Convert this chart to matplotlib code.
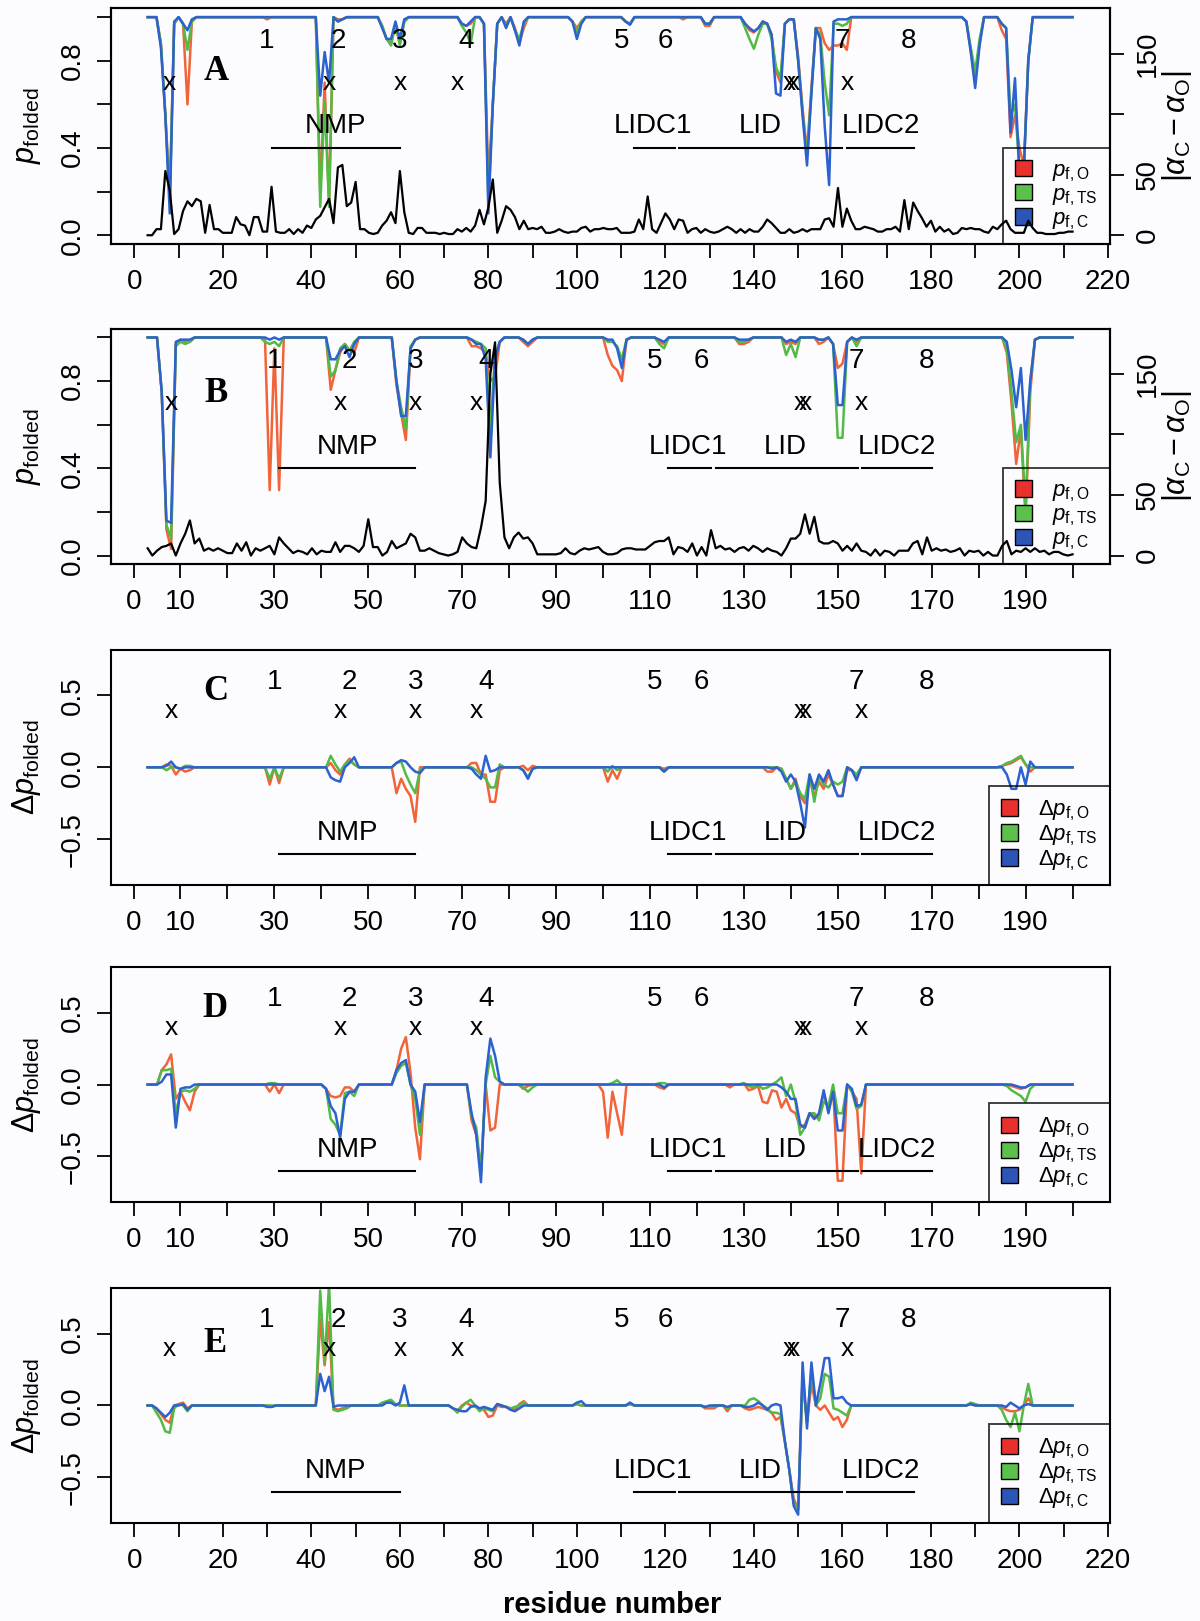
import numpy as np
import matplotlib
matplotlib.use('Agg')
import matplotlib.pyplot as plt
from matplotlib.patches import Patch

plt.rcParams['font.family'] = ['Liberation Sans', 'DejaVu Sans']
plt.rcParams['mathtext.fontset'] = 'custom'
plt.rcParams['mathtext.rm'] = 'Liberation Sans'
plt.rcParams['mathtext.it'] = 'Liberation Sans:italic'
plt.rcParams['mathtext.bf'] = 'Liberation Sans:bold'

# residue ranges of the two proteins
res_long = np.arange(3, 213)    # panels A and E
res_short = np.arange(3, 201)   # panels B, C and D

# |alpha_C - alpha_O| in degrees (black curves, right axis)
alpha_A = [0, 0, 5, 5, 53, 37, 1, 5, 20, 28,
           24, 30, 28, 2, 25, 5, 5, 2, 2, 2,
           15, 9, 8, 0, 15, 15, 3, 3, 40, 3,
           2, 2, 5, 1, 5, 2, 8, 6, 13, 16,
           23, 30, 10, 56, 58, 24, 27, 44, 5, 5,
           2, 1, 2, 8, 12, 19, 10, 53, 19, 2,
           1, 6, 6, 2, 2, 2, 1, 2, 1, 1,
           5, 3, 6, 3, 8, 21, 9, 23, 46, 2,
           12, 24, 21, 15, 5, 12, 5, 6, 5, 7,
           2, 2, 3, 5, 3, 2, 3, 3, 6, 7,
           3, 5, 5, 6, 5, 5, 6, 2, 2, 2,
           3, 13, 5, 32, 5, 2, 10, 18, 13, 5,
           13, 12, 2, 5, 6, 2, 5, 3, 2, 3,
           5, 7, 5, 2, 5, 2, 5, 3, 3, 7,
           13, 10, 6, 2, 2, 5, 2, 3, 5, 3,
           5, 5, 5, 13, 14, 7, 39, 7, 22, 12,
           5, 5, 7, 6, 5, 3, 3, 5, 5, 7,
           3, 29, 5, 27, 20, 14, 7, 12, 3, 7,
           3, 5, 1, 2, 6, 5, 6, 5, 5, 3,
           2, 7, 5, 9, 12, 5, 2, 2, 2, 12,
           6, 2, 2, 1, 1, 1, 2, 2, 3, 3]
alpha_B = [6, 0, 4, 7, 8, 10, 0, 10, 18, 29,
           10, 14, 4, 6, 4, 6, 4, 2, 2, 10,
           4, 11, 0, 6, 4, 6, 8, 1, 15, 10,
           6, 2, 4, 3, 1, 6, 1, 4, 3, 3,
           11, 3, 8, 8, 6, 3, 8, 30, 7, 7,
           0, 3, 12, 6, 8, 10, 18, 15, 4, 4,
           6, 4, 2, 1, 0, 1, 3, 15, 10, 7,
           6, 23, 45, 150, 176, 60, 15, 6, 15, 19,
           14, 15, 10, 1, 1, 1, 1, 1, 2, 6,
           2, 1, 4, 6, 5, 6, 7, 3, 1, 1,
           2, 5, 6, 6, 5, 5, 5, 8, 11, 12,
           12, 15, 1, 7, 6, 3, 10, 0, 7, 0,
           21, 6, 8, 5, 6, 3, 6, 7, 4, 8,
           6, 3, 6, 4, 3, 0, 6, 14, 14, 18,
           34, 18, 32, 12, 10, 10, 12, 10, 4, 8,
           4, 10, 4, 3, 0, 5, 0, 4, 3, 0,
           4, 4, 4, 10, 12, 1, 15, 4, 6, 4,
           5, 3, 4, 6, 0, 4, 3, 4, 0, 3,
           0, 0, 8, 12, 1, 4, 3, 6, 3, 6,
           3, 4, 1, 3, 3, 1, 0, 1]

# panel A: p_folded where it departs from 1
A_res = [6, 7, 8, 9, 11, 12, 13, 30, 42, 43,
         44, 46, 47, 56, 57, 58, 59, 60, 61, 74,
         75, 76, 79, 80, 81, 82, 84, 86, 87, 88,
         99, 100, 101, 111, 112, 124, 129, 130, 138, 139,
         140, 141, 142, 143, 144, 145, 146, 147, 148, 149,
         150, 151, 152, 153, 154, 155, 156, 157, 158, 159,
         160, 161, 188, 189, 190, 191, 196, 197, 198, 199,
         200, 201, 202]
A_pO = [0.88, 0.55, 0.20, 0.97, 0.97, 0.60, 0.98, 0.99, 0.20, 0.70,
        0.15, 0.99, 0.99, 0.96, 0.90, 0.88, 0.96, 0.88, 0.98, 0.97,
        0.96, 0.97, 0.97, 0.25, 0.60, 0.97, 0.97, 0.95, 0.88, 0.95,
        0.98, 0.95, 0.98, 0.98, 0.97, 0.99, 0.96, 0.96, 0.97, 0.94,
        0.93, 0.95, 0.98, 0.97, 0.92, 0.75, 0.70, 0.97, 0.99, 0.99,
        0.82, 0.58, 0.38, 0.68, 0.95, 0.95, 0.88, 0.85, 0.87, 0.87,
        0.88, 0.85, 0.98, 0.85, 0.71, 0.88, 0.94, 0.90, 0.45, 0.55,
        0.40, 0.32, 0.80]
A_pTS = [0.88, 0.56, 0.15, 0.97, 0.97, 0.85, 0.98, 1.00, 0.13, 0.62,
         0.13, 0.98, 0.99, 0.96, 0.90, 0.87, 0.97, 0.87, 0.98, 0.96,
         0.93, 0.88, 0.97, 0.15, 0.60, 0.97, 0.96, 0.94, 0.90, 0.97,
         0.98, 0.93, 0.98, 0.98, 0.97, 1.00, 0.97, 0.97, 0.95, 0.90,
         0.855, 0.92, 0.97, 0.97, 0.90, 0.77, 0.72, 0.97, 0.99, 0.99,
         0.80, 0.56, 0.36, 0.66, 0.95, 0.92, 0.70, 0.55, 0.97, 0.97,
         0.96, 0.97, 0.98, 0.86, 0.75, 0.90, 0.97, 0.95, 0.55, 0.60,
         0.30, 0.30, 0.80]
A_pC = [0.86, 0.55, 0.10, 0.98, 0.97, 0.94, 0.99, 1.00, 0.64, 0.84,
        0.70, 0.98, 0.99, 0.95, 0.90, 0.90, 0.98, 0.90, 0.99, 0.97,
        0.96, 0.98, 0.97, 0.10, 0.60, 0.97, 0.95, 0.94, 0.87, 0.98,
        0.98, 0.90, 0.97, 0.98, 0.965, 1.00, 0.97, 0.97, 0.97, 0.95,
        0.935, 0.95, 0.98, 0.97, 0.92, 0.65, 0.64, 0.97, 0.99, 0.99,
        0.80, 0.55, 0.32, 0.65, 0.95, 0.90, 0.50, 0.23, 0.98, 0.99,
        0.99, 0.99, 0.98, 0.84, 0.675, 0.87, 0.97, 0.95, 0.47, 0.72,
        0.28, 0.30, 0.80]

# panel B
B_res = [6, 7, 8, 9, 10, 11, 12, 28, 29, 30,
         31, 42, 43, 44, 45, 46, 47, 56, 57, 58,
         59, 60, 72, 73, 74, 75, 76, 77, 78, 83,
         84, 85, 101, 102, 103, 104, 105, 112, 113, 129,
         130, 131, 139, 140, 141, 146, 147, 149, 150, 151,
         152, 154, 186, 187, 188, 189, 190, 191, 192]
B_pO = [0.75, 0.12, 0.03, 0.97, 0.99, 0.98, 0.98, 0.99, 0.30, 0.95,
        0.30, 0.76, 0.85, 0.93, 0.97, 0.94, 0.93, 0.78, 0.65, 0.53,
        0.95, 0.99, 0.96, 0.96, 0.95, 0.93, 0.80, 0.82, 0.98, 0.98,
        0.96, 0.98, 0.92, 0.87, 0.85, 0.80, 0.99, 0.98, 0.97, 0.97,
        0.97, 0.98, 0.97, 0.98, 0.97, 0.97, 0.98, 0.97, 0.86, 0.88,
        0.98, 0.98, 0.93, 0.70, 0.42, 0.58, 0.17, 0.75, 0.99]
B_pTS = [0.75, 0.14, 0.08, 0.96, 0.98, 0.97, 0.98, 0.98, 0.97, 0.98,
         0.96, 0.82, 0.85, 0.95, 0.97, 0.94, 0.98, 0.80, 0.68, 0.58,
         0.96, 0.99, 0.99, 0.98, 0.97, 0.95, 0.58, 0.92, 0.98, 0.99,
         0.97, 0.99, 0.98, 0.98, 0.96, 0.90, 0.99, 0.97, 0.95, 0.98,
         0.98, 0.99, 0.92, 0.97, 0.91, 0.99, 0.99, 0.97, 0.54, 0.54,
         0.98, 0.96, 0.95, 0.75, 0.52, 0.60, 0.22, 0.80, 0.99]
B_pC = [0.75, 0.16, 0.15, 0.98, 0.99, 0.99, 0.99, 1.00, 0.99, 1.00,
        0.99, 0.90, 0.90, 0.94, 0.96, 0.91, 0.97, 0.80, 0.64, 0.64,
        0.95, 0.99, 0.99, 0.97, 0.97, 0.90, 0.45, 0.90, 0.98, 0.99,
        0.97, 0.99, 0.99, 0.99, 0.95, 0.86, 0.99, 0.99, 0.98, 0.99,
        0.99, 0.99, 0.98, 0.99, 0.98, 0.99, 0.99, 0.97, 0.69, 0.69,
        0.98, 0.99, 0.98, 0.85, 0.68, 0.86, 0.53, 0.80, 0.99]

# panel C: delta p_folded where it departs from 0
C_res = [7, 8, 9, 10, 11, 12, 29, 31, 42, 43,
         44, 45, 46, 47, 56, 57, 58, 59, 60, 61,
         72, 73, 74, 75, 76, 77, 78, 83, 84, 85,
         101, 102, 103, 113, 135, 136, 138, 139, 140, 141,
         142, 143, 144, 145, 146, 147, 148, 149, 150, 151,
         152, 153, 154, 185, 186, 187, 188, 189, 190, 191]
C_dO = [0.02, 0.01, -0.05, -0.01, -0.03, -0.02, -0.12, -0.11, 0.03, -0.02,
        -0.05, 0.02, 0.06, 0.02, -0.18, -0.08, -0.15, -0.20, -0.38, 0.00,
        0.03, 0.03, -0.05, -0.05, -0.24, -0.24, -0.02, 0.01, -0.02, 0.01,
        -0.10, -0.02, -0.08, -0.01, -0.03, -0.03, -0.01, -0.08, -0.15, -0.08,
        -0.20, -0.25, -0.08, -0.20, -0.10, -0.15, -0.05, -0.12, -0.20, -0.20,
        -0.02, -0.02, -0.07, 0.01, 0.02, 0.03, 0.05, 0.07, 0.02, -0.03]
C_dTS = [-0.02, 0.00, 0.00, -0.01, 0.01, 0.01, -0.08, -0.08, 0.08, 0.02,
         -0.03, 0.02, 0.05, 0.02, 0.03, 0.04, -0.05, -0.12, -0.18, -0.02,
         0.00, -0.02, -0.05, -0.08, -0.14, -0.14, 0.02, -0.02, -0.07, -0.01,
         -0.03, 0.01, -0.02, -0.03, 0.00, 0.00, -0.01, -0.08, -0.15, -0.10,
         -0.18, -0.22, -0.05, -0.24, -0.06, -0.12, -0.14, -0.10, -0.12, -0.10,
         0.00, -0.02, -0.05, 0.01, 0.03, 0.04, 0.06, 0.08, 0.02, 0.00]
C_dC = [0.01, 0.04, 0.00, -0.01, 0.00, 0.00, 0.00, 0.00, -0.07, -0.09,
        -0.10, 0.00, 0.03, 0.07, 0.03, 0.05, 0.04, 0.00, -0.03, -0.04,
        -0.01, -0.05, -0.08, 0.08, -0.03, -0.02, 0.00, -0.02, -0.08, -0.01,
        0.00, 0.00, 0.00, -0.03, 0.00, -0.01, -0.03, -0.10, -0.05, -0.10,
        -0.25, -0.42, -0.05, -0.15, -0.05, -0.10, -0.02, -0.12, -0.20, -0.20,
        0.00, -0.02, -0.09, 0.00, -0.05, -0.15, -0.15, 0.00, -0.12, 0.04]

# panel D
D_res = [6, 7, 8, 9, 10, 11, 12, 13, 29, 30,
         31, 41, 42, 43, 44, 45, 46, 47, 56, 57,
         58, 59, 60, 61, 72, 73, 74, 75, 76, 77,
         78, 83, 84, 85, 100, 101, 102, 103, 104, 112,
         113, 127, 130, 131, 132, 133, 134, 135, 136, 137,
         138, 139, 140, 141, 142, 143, 144, 145, 146, 147,
         148, 149, 150, 151, 152, 153, 154, 155, 186, 187,
         188, 189, 190, 191]
D_dO = [0.10, 0.14, 0.21, -0.10, -0.05, -0.12, -0.18, -0.05, -0.05, 0.00,
        -0.06, -0.03, -0.08, -0.09, -0.08, -0.02, -0.02, -0.05, 0.10, 0.25,
        0.33, 0.08, -0.30, -0.52, -0.25, -0.35, -0.62, 0.00, -0.32, -0.30,
        0.00, -0.03, -0.01, 0.00, -0.05, -0.37, -0.05, -0.20, -0.35, -0.02,
        -0.03, -0.02, 0.01, -0.04, -0.03, -0.01, -0.12, -0.13, -0.04, -0.05,
        -0.16, -0.10, -0.18, -0.20, -0.30, -0.28, -0.20, -0.22, -0.22, -0.06,
        -0.18, -0.02, -0.67, -0.67, 0.00, -0.05, -0.10, -0.62, 0.00, -0.01,
        -0.02, -0.03, -0.02, 0.00]
D_dTS = [0.10, 0.10, 0.11, -0.20, -0.05, -0.04, -0.05, -0.03, 0.01, 0.01,
         0.00, -0.03, -0.24, -0.28, -0.35, -0.06, -0.05, -0.08, 0.08, 0.13,
         0.15, 0.00, -0.10, -0.35, -0.22, -0.30, -0.60, 0.00, 0.20, 0.05,
         0.02, -0.02, -0.05, -0.02, 0.00, 0.00, 0.01, 0.03, 0.00, 0.01,
         0.01, 0.00, 0.01, -0.01, -0.02, 0.00, -0.03, -0.02, 0.00, 0.02,
         0.05, -0.08, 0.00, -0.12, -0.35, -0.30, -0.20, -0.20, -0.25, -0.12,
         -0.15, 0.00, -0.20, -0.20, 0.00, -0.05, -0.17, -0.15, -0.01, -0.04,
         -0.06, -0.08, -0.12, -0.03]
D_dC = [0.02, 0.07, 0.07, -0.30, -0.03, -0.02, -0.02, 0.00, 0.00, 0.00,
        0.00, -0.03, -0.15, -0.20, -0.37, -0.10, -0.05, -0.05, 0.10, 0.15,
        0.17, 0.00, -0.05, -0.26, -0.20, -0.35, -0.68, 0.05, 0.32, 0.20,
        0.02, 0.00, 0.00, 0.00, 0.00, 0.00, 0.00, 0.00, 0.00, 0.00,
        -0.02, 0.00, 0.00, 0.00, 0.00, 0.00, 0.00, 0.00, 0.00, 0.00,
        -0.02, -0.05, -0.10, -0.10, -0.28, -0.30, -0.20, -0.24, -0.20, -0.04,
        -0.20, -0.05, -0.32, -0.32, 0.00, -0.03, -0.15, -0.14, 0.00, 0.00,
        -0.01, -0.02, -0.02, 0.00]

# panel E
E_res = [5, 6, 7, 8, 9, 10, 11, 12, 30, 31,
         42, 43, 44, 45, 46, 47, 48, 56, 57, 58,
         59, 60, 61, 72, 73, 74, 75, 76, 77, 78,
         79, 80, 81, 82, 83, 84, 85, 86, 87, 88,
         100, 101, 112, 129, 130, 131, 134, 138, 139, 140,
         141, 142, 143, 144, 145, 146, 147, 148, 149, 150,
         151, 152, 153, 154, 155, 156, 157, 158, 159, 160,
         161, 189, 190, 196, 197, 198, 199, 200, 201, 202]
E_dO = [-0.02, -0.06, -0.10, -0.12, 0.00, 0.01, 0.02, -0.02, 0.00, -0.01,
        0.60, 0.28, 0.58, -0.02, -0.03, -0.02, -0.01, 0.01, 0.02, 0.02,
        0.01, 0.00, 0.00, -0.02, -0.04, 0.00, 0.02, 0.00, -0.01, -0.02,
        -0.03, -0.08, -0.07, 0.00, -0.01, -0.01, -0.02, -0.03, 0.01, 0.03,
        0.01, 0.00, 0.01, -0.02, -0.02, -0.02, -0.04, -0.02, -0.03, -0.02,
        -0.01, -0.02, -0.03, -0.05, -0.10, -0.08, -0.25, -0.45, -0.65, -0.72,
        0.20, -0.12, 0.15, 0.00, -0.03, 0.00, -0.05, -0.10, -0.08, -0.15,
        -0.10, 0.01, 0.00, -0.01, -0.03, -0.04, -0.04, -0.03, 0.00, 0.05]
E_dTS = [-0.05, -0.10, -0.18, -0.19, -0.02, 0.01, 0.00, -0.04, 0.00, 0.00,
         0.80, 0.30, 0.85, -0.03, -0.04, -0.03, -0.02, 0.02, 0.03, 0.04,
         0.01, 0.00, 0.00, -0.02, -0.05, -0.01, 0.02, 0.04, 0.00, -0.04,
         -0.02, -0.03, -0.04, 0.01, 0.00, -0.01, -0.02, -0.01, 0.00, 0.02,
         0.01, 0.00, 0.01, -0.01, -0.01, 0.00, -0.02, 0.00, 0.04, 0.05,
         0.03, 0.00, -0.02, -0.05, -0.05, -0.06, -0.25, -0.45, -0.68, -0.72,
         0.18, -0.12, 0.25, 0.00, 0.05, 0.22, 0.20, -0.02, -0.03, -0.05,
         -0.07, 0.02, 0.01, -0.03, -0.10, -0.15, -0.05, -0.18, 0.00, 0.15]
E_dC = [-0.02, -0.05, -0.08, -0.05, 0.00, 0.00, 0.01, -0.03, -0.01, -0.01,
        0.22, 0.10, 0.20, -0.01, 0.00, 0.00, 0.00, 0.00, 0.02, 0.02,
        0.00, 0.02, 0.14, -0.02, -0.03, -0.04, -0.04, -0.01, 0.00, -0.02,
        -0.01, -0.02, -0.03, 0.01, 0.00, -0.01, -0.03, -0.04, -0.02, 0.00,
        0.02, 0.03, 0.02, -0.01, 0.00, 0.00, -0.01, -0.01, -0.01, 0.00,
        0.02, 0.00, -0.03, 0.00, 0.01, 0.00, -0.25, -0.45, -0.70, -0.76,
        0.30, -0.16, 0.30, 0.00, 0.15, 0.33, 0.33, 0.05, 0.05, 0.06,
        0.02, 0.01, 0.00, 0.00, -0.01, 0.02, 0.00, -0.02, 0.00, 0.01]

# annotation positions (residue numbers) for the two proteins
num_long = [30, 46, 60, 75, 110, 120, 160, 175]
num_short = [30, 46, 60, 75, 111, 121, 154, 169]
cross_long = [8, 44, 60, 73, 148, 149, 161]
cross_short = [8, 44, 60, 73, 142, 143, 155]
dom_names = ['NMP', 'LIDC1', 'LID', 'LIDC2']
dom_long = [(31, 60, 45.5), (113, 122.2, 117.3), (123.1, 159.9, 141.4), (161, 176.1, 168.6)]
dom_short = [(31, 60, 45.6), (113.8, 123.1, 118.1), (124, 154.3, 138.9), (155.1, 170.1, 162.5)]

line_cols = ['#F1643A', '#52BA45', '#2B62CF']
patch_cols = ['#E8302C', '#5CC04C', '#2C55B8']


def fill(res, idx, vals, base):
    assert len(idx) == len(vals)
    out = np.full(len(res), base, dtype=float)
    for r, v in zip(idx, vals):
        out[r - res[0]] = v
    return out


fig = plt.figure(figsize=(12, 16.21), dpi=100)
fig.patch.set_facecolor('#FCFCFE')
left, width, height = 0.0922, 0.8324, 0.1453
bottoms = [0.8495, 0.6519, 0.4540, 0.2583, 0.0603]

panels = [
    ('A', res_long, A_res, [A_pO, A_pTS, A_pC], alpha_A, (18.6, 0.75)),
    ('B', res_short, B_res, [B_pO, B_pTS, B_pC], alpha_B, (17.5, 0.745)),
    ('C', res_short, C_res, [C_dO, C_dTS, C_dC], None, (17.5, 0.525)),
    ('D', res_short, D_res, [D_dO, D_dTS, D_dC], None, (17.4, 0.53)),
    ('E', res_long, E_res, [E_dO, E_dTS, E_dC], None, (18.3, 0.43)),
]

for (letter, res, idx, series, alpha, letter_xy), bot in zip(panels, bottoms):
    ax = fig.add_axes([left, bot, width, height])
    ax.set_facecolor('#FCFCFE')
    is_p = alpha is not None
    is_long = res[-1] > 205
    base = 1.0 if is_p else 0.0

    for vals, col in zip(series, line_cols):
        ax.plot(res, fill(res, idx, vals, base), color=col, lw=1.8, zorder=2)

    n = res[-1] - res[0]
    ax.set_xlim(res[0] - 0.04 * n, res[-1] + 0.04 * n)
    if is_p:
        ax.set_ylim(-0.04, 1.04)
        ax.set_yticks(np.arange(0, 1.01, 0.2))
        ax.set_yticklabels(['0.0', '', '0.4', '', '0.8', ''])
    else:
        ax.set_ylim(-0.82, 0.82)
        ax.set_yticks([-0.5, 0.0, 0.5])
        ax.set_yticklabels(['\u22120.5', '0.0', '0.5'])

    if is_long:
        xt = np.arange(0, 221, 10)
        xl = [str(t) if t % 20 == 0 else '' for t in xt]
    else:
        xt = np.arange(0, 201, 10)
        xl = [str(t) if (t == 0 or t % 20 == 10) else '' for t in xt]
    ax.set_xticks(xt)
    ax.set_xticklabels(xl)
    ax.tick_params(axis='both', direction='out', length=10, width=1.3,
                   labelsize=20, pad=8)
    for lbl in ax.get_yticklabels():
        lbl.set_rotation(90)
        lbl.set_va('center')
    for sp in ax.spines.values():
        sp.set_linewidth(1.5)

    # annotations
    nums = num_long if is_long else num_short
    crosses = cross_long if is_long else cross_short
    doms = dom_long if is_long else dom_short
    y_num, y_x = (0.89, 0.70) if is_p else (0.595, 0.395)
    y_dt, y_dl = (0.50, 0.40) if is_p else (-0.455, -0.605)
    for k, xn in enumerate(nums):
        ax.text(xn, y_num, str(k + 1), ha='center', va='center', fontsize=20)
    for xc in crosses:
        ax.text(xc, y_x, 'x', ha='center', va='center', fontsize=19)
    for name, (a, b, c) in zip(dom_names, doms):
        ax.plot([a, b], [y_dl, y_dl], color='black', lw=1.5)
        ax.text(c, y_dt, name, ha='center', va='center', fontsize=20)
    ax.text(letter_xy[0], letter_xy[1], letter, ha='center', va='center',
            fontsize=25, fontweight='bold', family='Liberation Serif')

    if is_p:
        ax.set_ylabel(r'$p_{\mathrm{folded}}$', fontsize=22)
        labs = [r'$p_{\mathrm{f,O}}$', r'$p_{\mathrm{f,TS}}$', r'$p_{\mathrm{f,C}}$']
    else:
        ax.set_ylabel(r'$\Delta p_{\mathrm{folded}}$', fontsize=22)
        labs = [r'$\Delta p_{\mathrm{f,O}}$', r'$\Delta p_{\mathrm{f,TS}}$',
                r'$\Delta p_{\mathrm{f,C}}$']
    ax.yaxis.set_label_coords(-0.068, 0.5)

    handles = [Patch(facecolor=c, edgecolor='black', linewidth=1.0) for c in patch_cols]
    leg = ax.legend(handles, labs, loc='lower right', borderaxespad=0,
                    frameon=True, fancybox=False, fontsize=16,
                    handlelength=0.75, handleheight=0.75, handletextpad=0.9,
                    labelspacing=0.02, borderpad=0.55)
    leg.get_frame().set_edgecolor('black')
    leg.get_frame().set_facecolor('none')
    leg.get_frame().set_linewidth(1.3)

    if is_p:
        ax2 = ax.twinx()
        ax2.plot(res, alpha, color='black', lw=1.6)
        ax2.set_ylim(-0.04 * 180, 1.04 * 180)
        ax2.set_yticks([0, 50, 100, 150])
        ax2.set_yticklabels(['0', '50', '', '150'])
        ax2.tick_params(axis='y', direction='out', length=10, width=1.3,
                        labelsize=20, pad=8)
        for lbl in ax2.get_yticklabels():
            lbl.set_rotation(90)
            lbl.set_va('center')
        ax2.set_ylabel(r'$|\alpha_{\mathrm{C}} - \alpha_{\mathrm{O}}|$', fontsize=22)
        ax2.yaxis.set_label_coords(1.051, 0.5)
        for sp in ax2.spines.values():
            sp.set_linewidth(1.5)

fig.text(0.51, 0.001, 'residue number', ha='center', va='bottom',
         fontsize=21, fontweight='bold')

fig.savefig('out.png', dpi=100, facecolor=fig.get_facecolor())
